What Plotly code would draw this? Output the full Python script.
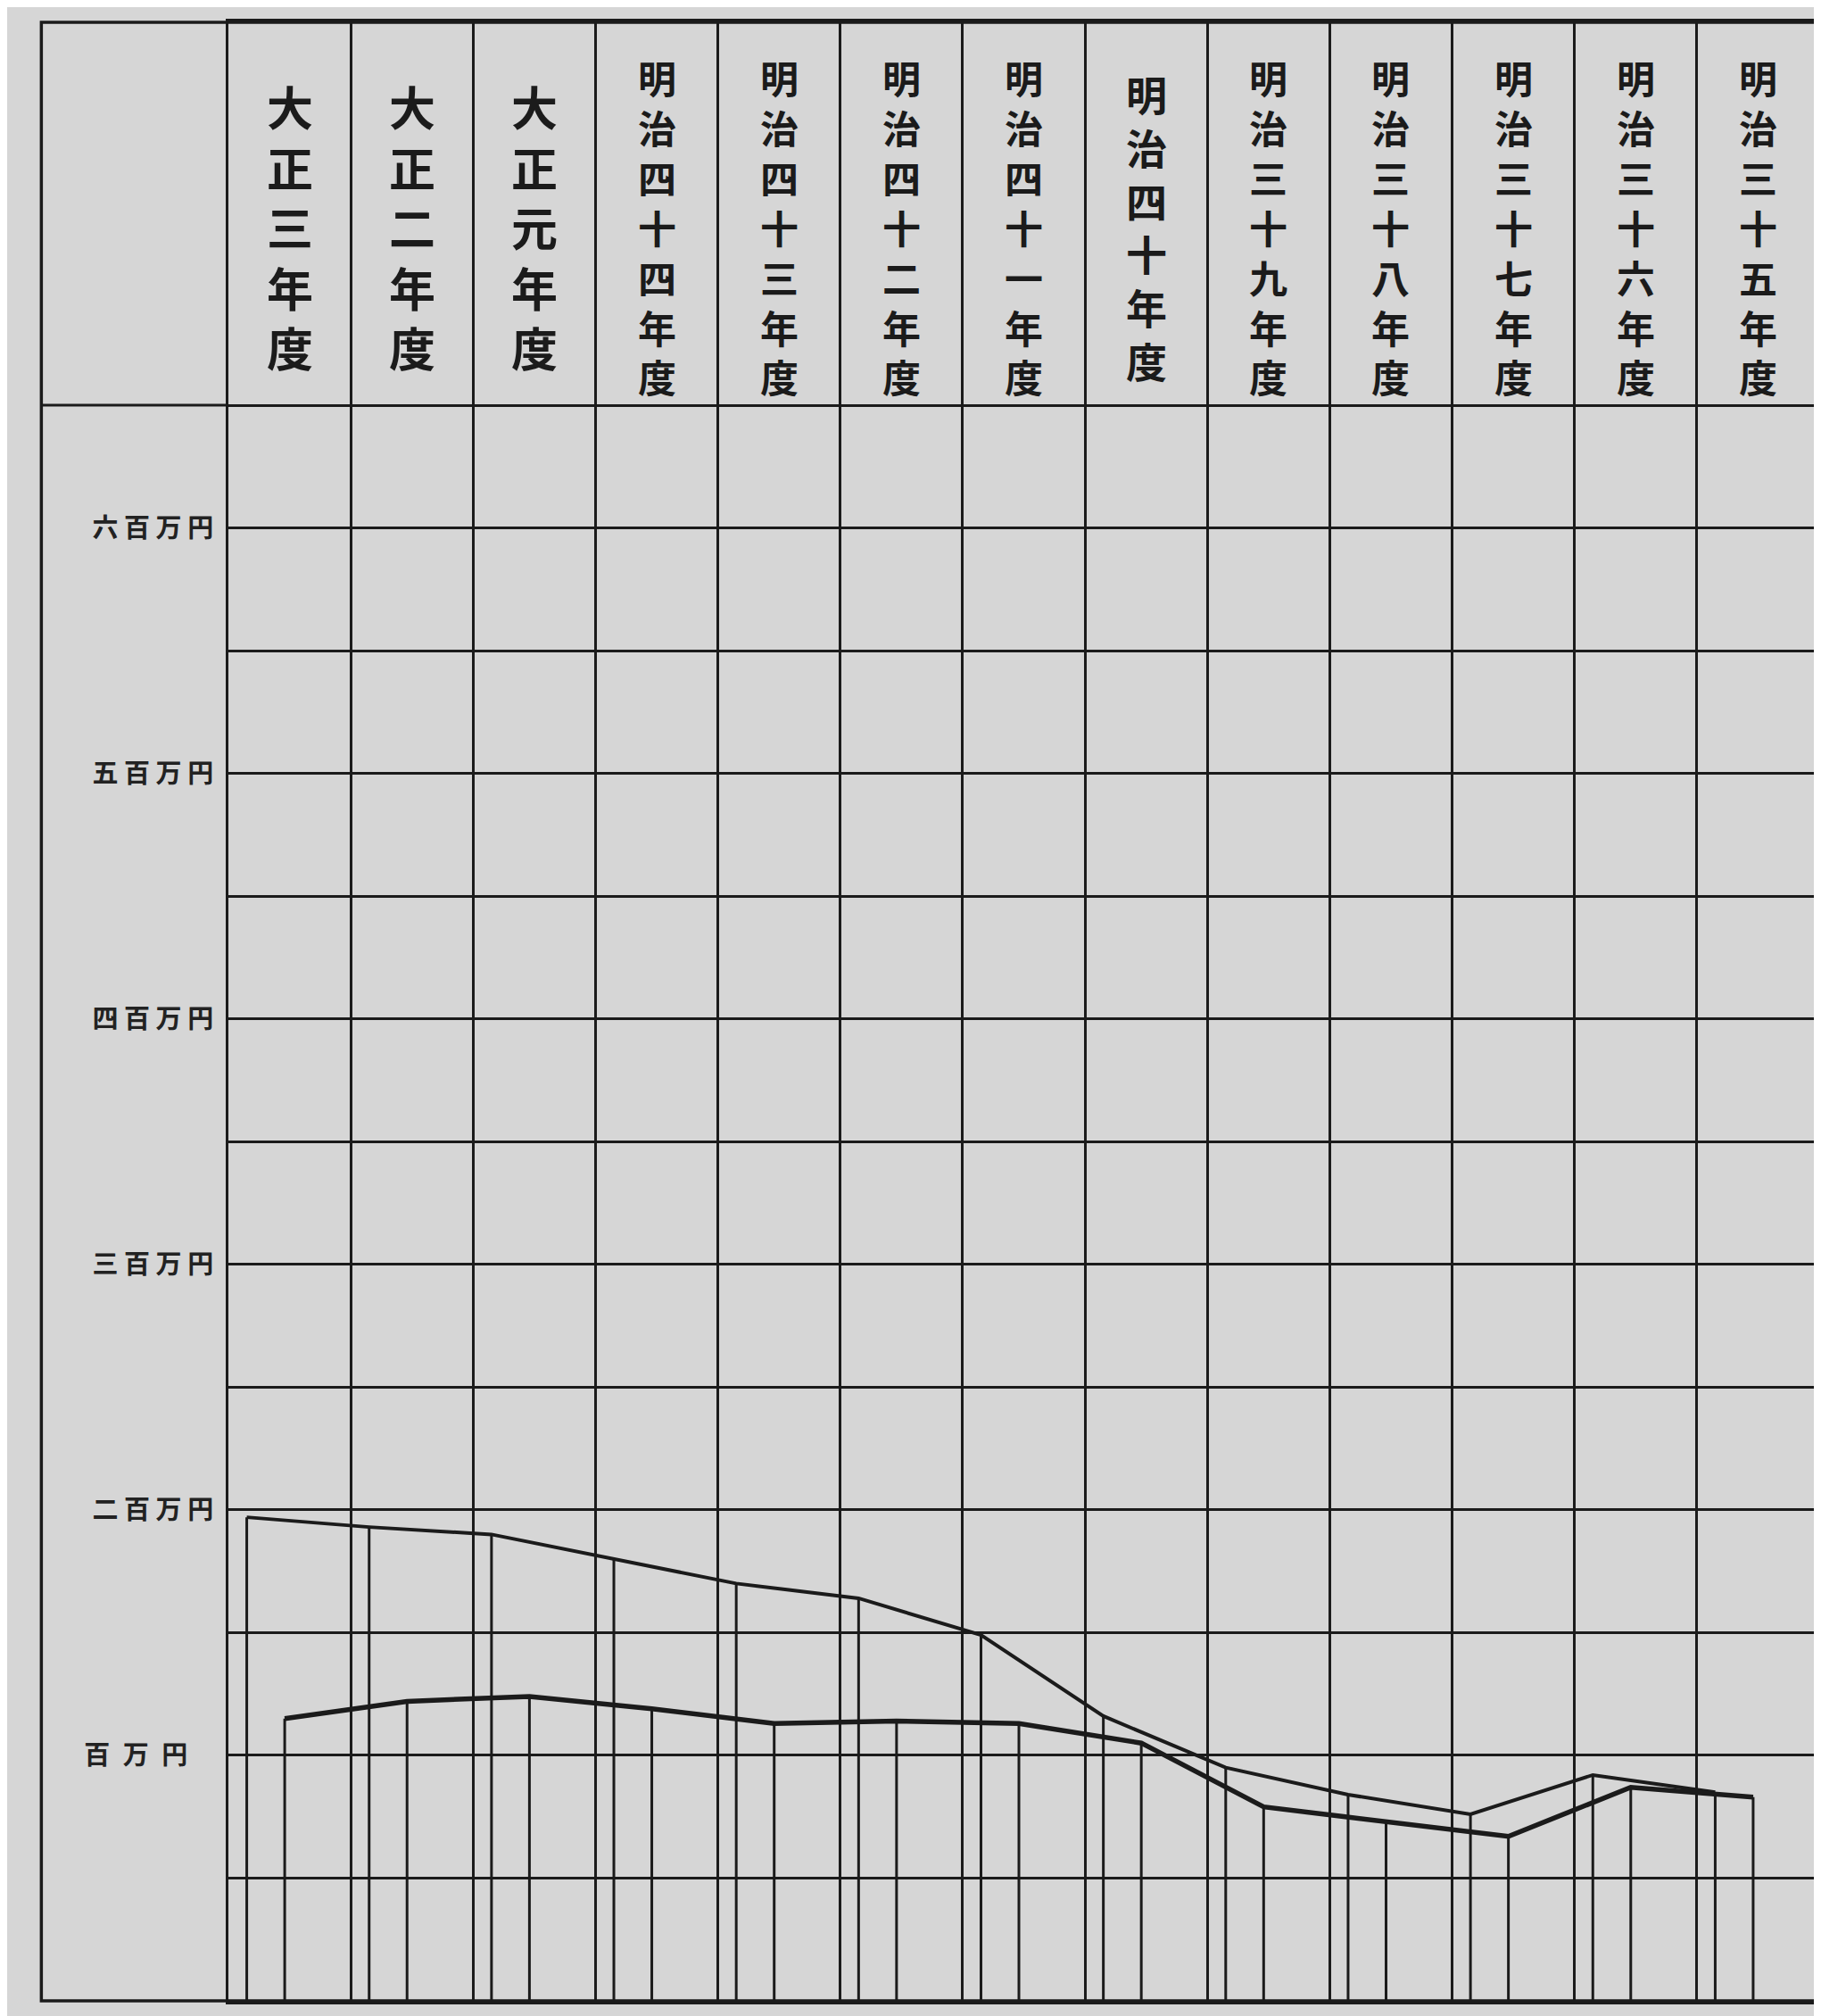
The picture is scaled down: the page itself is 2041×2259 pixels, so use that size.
import plotly.graph_objects as go

# ---- data (values in 万円) ----
years = ["大正三年度", "大正二年度", "大正元年度", "明治四十四年度", "明治四十三年度",
         "明治四十二年度", "明治四十一年度", "明治四十年度", "明治三十九年度",
         "明治三十八年度", "明治三十七年度", "明治三十六年度", "明治三十五年度"]
upper_values = [197, 193, 190, 180, 170, 164, 149, 116, 95, 84, 76, 92, 85]
lower_values = [115, 122, 124, 119, 113, 114, 113, 105, 79, 73, 67, 87, 83]
grid_values = [0, 50, 100, 150, 200, 250, 300, 350, 400, 450, 500, 550, 600, 650]
label_values = [100, 200, 300, 400, 500, 600]
label_texts = ["百\u2002万\u2002円\u2003", "二\u00a0百\u00a0万\u00a0円",
               "三\u00a0百\u00a0万\u00a0円", "四\u00a0百\u00a0万\u00a0円",
               "五\u00a0百\u00a0万\u00a0円", "六\u00a0百\u00a0万\u00a0円"]

# ---- style ----
INK = "#1b1b1b"
PAPER = "#d6d6d6"
FONT = "Noto Sans CJK JP"
W, H = 2041, 2259
ML, MR, MT, MB = 248, 7, 17, 25
Y_TOP = 806
HEADER_BOTTOM = 650
OUTER_LEFT_PX = 38

n = len(years)
fig = go.Figure()

for vals, offset, lw in [(upper_values, 0.15, 4), (lower_values, 0.46, 5.5)]:
    xs = [i + offset for i in range(n)]
    fig.add_trace(go.Scatter(
        x=xs, y=vals, mode="lines",
        line=dict(color=INK, width=lw),
        error_y=dict(type="data", symmetric=False, array=[0] * n, arrayminus=vals,
                     width=0, thickness=3, color=INK),
        showlegend=False, hoverinfo="skip"))

tick_text = []
for v in grid_values:
    tick_text.append(label_texts[label_values.index(v)] if v in label_values else "")

# header labels written vertically (one character per line)
annotations = []
size_for = {5: 52, 6: 46, 7: 43}
for i, label in enumerate(years):
    k = len(label)
    annotations.append(dict(
        x=i + 0.5, y=(790 + 656) / 2, xref="x", yref="y",
        text="<br>".join(list(label)), showarrow=False,
        xanchor="center", yanchor="middle", align="center",
        font=dict(family=FONT, size=size_for.get(k, 43), color=INK, weight="bold")))

plot_w = W - ML - MR
xp_left = (OUTER_LEFT_PX - ML) / plot_w

shapes = [
    dict(type="rect", xref="paper", yref="paper", x0=xp_left, x1=1, y0=0, y1=1,
         line=dict(color=INK, width=3.5)),
    dict(type="line", xref="paper", yref="y", x0=xp_left, x1=0,
         y0=HEADER_BOTTOM, y1=HEADER_BOTTOM, line=dict(color=INK, width=3)),
]

fig.update_layout(
    width=W, height=H,
    margin=dict(l=ML, r=MR, t=MT, b=MB, pad=0),
    paper_bgcolor=PAPER, plot_bgcolor=PAPER,
    xaxis=dict(range=[0, n], tickvals=list(range(n + 1)), showgrid=True,
               gridcolor=INK, gridwidth=2.5, showticklabels=False, zeroline=False,
               showline=True, linecolor=INK, linewidth=3.5, mirror=True, ticks=""),
    yaxis=dict(range=[0, Y_TOP], tickvals=grid_values, ticktext=tick_text,
               showgrid=True, gridcolor=INK, gridwidth=2.5, zeroline=False,
               showline=True, linecolor=INK, linewidth=3, mirror=True,
               ticks="outside", ticklen=8, tickcolor="rgba(0,0,0,0)",
               tickfont=dict(family=FONT, size=29, color="#222222", weight="bold")),
    annotations=annotations,
    shapes=shapes,
)

fig.write_html("out.html")
